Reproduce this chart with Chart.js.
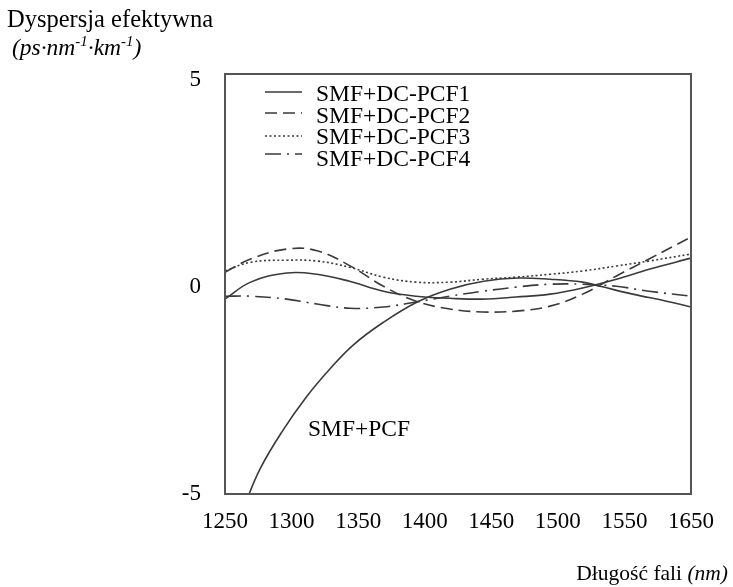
<!DOCTYPE html>
<html>
<head>
<meta charset="utf-8">
<script src="https://cdn.jsdelivr.net/npm/chart.js@4.4.0/dist/chart.umd.min.js"></script>
<style>
  html, body { margin: 0; padding: 0; background: #fff; }
  #wrap { width: 733px; height: 587px; }
</style>
</head>
<body>
<div id="wrap"><canvas id="dispChart" width="733" height="587"></canvas></div>
<script>
// wavelengths (nm) for the DC-PCF curves
var wavelengths = [1250, 1272, 1303, 1329, 1357, 1386, 1414, 1443, 1471, 1500, 1529, 1557, 1586, 1614, 1650];
var pcf1 = [-0.29, 0.12, 0.34, 0.31, 0.14, -0.10, -0.22, -0.27, -0.29, -0.24, -0.17, -0.02, 0.19, 0.43, 0.70];
var pcf2 = [0.36, 0.68, 0.92, 0.88, 0.52, 0.02, -0.34, -0.53, -0.60, -0.58, -0.46, -0.17, 0.27, 0.68, 1.21];
var pcf3 = [0.39, 0.60, 0.65, 0.63, 0.48, 0.24, 0.12, 0.12, 0.19, 0.24, 0.31, 0.39, 0.51, 0.63, 0.80];
var pcf4 = [-0.22, -0.22, -0.29, -0.41, -0.51, -0.48, -0.36, -0.22, -0.10, 0.0, 0.07, 0.07, 0.02, -0.10, -0.22];

// SMF+PCF (no compensation)
var smfWavelengths = [1265, 1280, 1300, 1320, 1340, 1360, 1386, 1415, 1443, 1472, 1501, 1529, 1557, 1572, 1600, 1629, 1650];
var smfPcf = [-5.4, -4.40, -3.45, -2.65, -1.98, -1.40, -0.85, -0.36, -0.05, 0.14, 0.22, 0.19, 0.12, 0.02, -0.17, -0.34, -0.48];

var seriesNames = ['SMF+DC-PCF1', 'SMF+DC-PCF2', 'SMF+DC-PCF3', 'SMF+DC-PCF4'];
var xTickLabels = ['1250', '1300', '1350', '1400', '1450', '1500', '1550', '1650'];
var yTicks = [-5, 0, 5];

var serif = "'Liberation Serif', 'Times New Roman', serif";
var lineColor = '#3a3a3a';

function toPoints(xs, ys) {
    return xs.map(function(x, i) { return { x: x, y: ys[i] }; });
}

var dashes = [[], [12, 6], [2, 2.5], [16, 6, 2, 6]];

var datasets = [pcf1, pcf2, pcf3, pcf4].map(function(vals, i) {
    return {
        label: seriesNames[i],
        data: toPoints(wavelengths, vals),
        borderColor: lineColor,
        borderWidth: 1.6,
        borderDash: dashes[i],
        pointRadius: 0,
        tension: 0.4,
        fill: false
    };
});
datasets.push({
    label: 'SMF+PCF',
    data: toPoints(smfWavelengths, smfPcf),
    borderColor: lineColor,
    borderWidth: 1.6,
    pointRadius: 0,
    tension: 0.4,
    fill: false
});

// frame, legend inside the plot and axis titles
var decorPlugin = {
    id: 'decor',
    afterDraw: function(chart) {
        var ctx = chart.ctx;
        var a = chart.chartArea;
        ctx.save();

        ctx.strokeStyle = '#555';
        ctx.lineWidth = 2;
        ctx.strokeRect(a.left, a.top, a.right - a.left, a.bottom - a.top);

        // legend
        var sampleY = [18, 39, 62, 80];
        var textY = [21, 43, 64, 86];
        for (var i = 0; i < 4; i++) {
            var ds = chart.data.datasets[i];
            ctx.strokeStyle = ds.borderColor;
            ctx.lineWidth = 1.6;
            ctx.setLineDash(ds.borderDash);
            ctx.beginPath();
            ctx.moveTo(a.left + 40, a.top + sampleY[i]);
            ctx.lineTo(a.left + 77, a.top + sampleY[i]);
            ctx.stroke();
            ctx.setLineDash([]);
            ctx.fillStyle = '#000';
            ctx.font = '23.5px ' + serif;
            ctx.textAlign = 'left';
            ctx.textBaseline = 'middle';
            ctx.fillText(ds.label, a.left + 91, a.top + textY[i]);
        }

        // label for the uncompensated curve
        ctx.fillText('SMF+PCF', 308, 430);

        // y title
        ctx.font = '24.5px ' + serif;
        ctx.fillText('Dyspersja efektywna', 7, 21);
        var x = 12, y = 49;
        var parts = [['(ps·nm', 0], ['-1', 1], ['·km', 0], ['-1', 1], [')', 0]];
        parts.forEach(function(p) {
            ctx.font = p[1] ? 'italic 15px ' + serif : 'italic 23.5px ' + serif;
            ctx.fillText(p[0], x, p[1] ? y - 7 : y);
            x += ctx.measureText(p[0]).width;
        });

        // x title
        ctx.textAlign = 'right';
        ctx.font = 'italic 21.5px ' + serif;
        var unit = '(nm)';
        var uw = ctx.measureText(unit).width;
        ctx.fillText(unit, 728, 574);
        ctx.font = '21.5px ' + serif;
        ctx.fillText('Długość fali ', 728 - uw, 574);

        ctx.restore();
    }
};

document.addEventListener('DOMContentLoaded', function() {
    var ctx = document.getElementById('dispChart').getContext('2d');
    new Chart(ctx, {
        type: 'line',
        data: { datasets: datasets },
        options: {
            responsive: false,
            animation: false,
            devicePixelRatio: 1,
            layout: { padding: { left: 0, right: 42, top: 74, bottom: 0 } },
            plugins: { legend: { display: false }, tooltip: { enabled: false } },
            scales: {
                x: {
                    type: 'linear',
                    min: 1250,
                    max: 1650,
                    grid: { display: false, drawTicks: false },
                    border: { display: false },
                    afterBuildTicks: function(scale) {
                        scale.ticks = xTickLabels.map(function(l, i) {
                            return { value: 1250 + i * 400 / (xTickLabels.length - 1) };
                        });
                    },
                    afterFit: function(scale) { scale.height = 93; },
                    ticks: {
                        autoSkip: false,
                        maxRotation: 0,
                        padding: 14,
                        color: '#000',
                        font: { family: serif, size: 23 },
                        callback: function(v, i) { return xTickLabels[i]; }
                    }
                },
                y: {
                    min: -5,
                    max: 5.15,
                    grid: { display: false, drawTicks: false },
                    border: { display: false },
                    afterBuildTicks: function(scale) {
                        scale.ticks = yTicks.map(function(v) { return { value: v }; });
                    },
                    afterFit: function(scale) { scale.width = 225; },
                    ticks: {
                        padding: 24,
                        color: '#000',
                        font: { family: serif, size: 23 },
                        callback: function(v) { return String(v); }
                    }
                }
            }
        },
        plugins: [decorPlugin]
    });
});
</script>
</body>
</html>
